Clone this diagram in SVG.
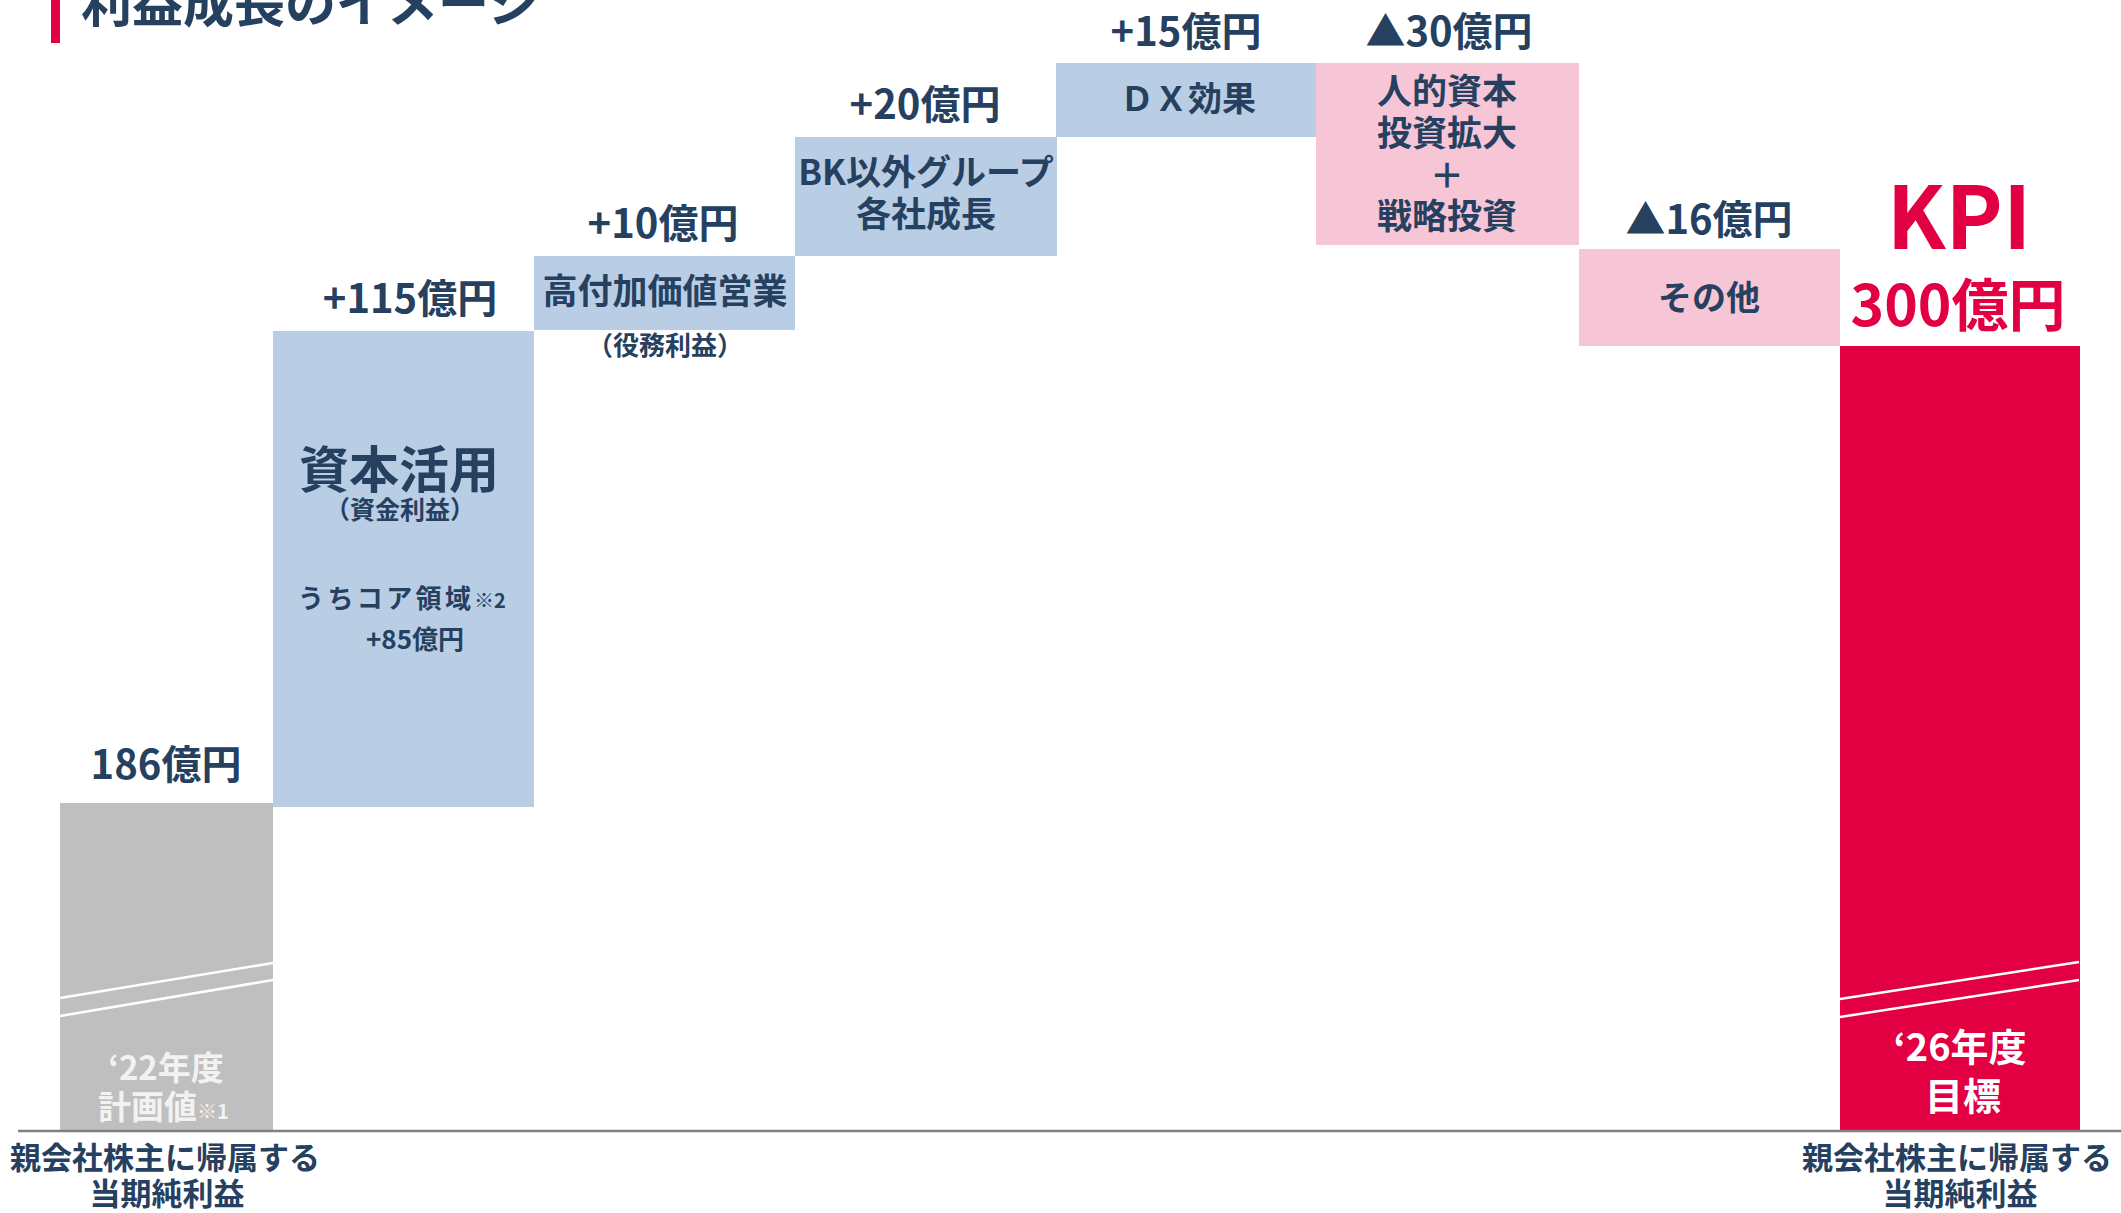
<svg xmlns="http://www.w3.org/2000/svg" width="2121" height="1213" viewBox="0 0 2121 1213">
<style>
text{font-family:"Noto Sans CJK JP","Noto Sans",sans-serif;font-weight:700;fill:#26405f}
.c{text-anchor:middle}
.v{font-size:40px}
.lb{font-size:35px}
.blue{fill:#b9cde5}
.pink{fill:#f7c6d6}
.red{fill:#e30042}
.gray{fill:#bfbfbf}
.brk{stroke:#ffffff;stroke-width:2.5;fill:none}
.wt{fill:#ffffff}
.kpi{fill:#e30042}
</style>
<rect width="2121" height="1213" fill="#ffffff"/>
<g id="title">
<rect x="51" y="0" width="9" height="43" fill="#e30042"/>
<text x="81" y="22" font-size="51">利益成長のイメージ</text>
</g>
<g id="start">
<rect class="gray" x="60" y="803" width="213" height="328"/>
<path class="brk" d="M60,998 L273,963 M60,1016 L273,980"/>
<text class="c v" x="166" y="779">186億円</text>
<text class="c" x="166" y="1080" font-size="33" style="fill:#f2f2f2">‘22年度</text>
<text x="98" y="1119" font-size="33" style="fill:#f2f2f2">計画値<tspan font-size="20">※1</tspan></text>
</g>
<g id="capital">
<rect class="blue" x="273" y="331" width="261" height="476"/>
<text class="c v" x="410" y="313">+115億円</text>
<text class="c" x="399" y="488" font-size="50">資本活用</text>
<text class="c" x="400" y="519" font-size="25">（資金利益）</text>
<text y="608" font-size="26"><tspan x="298" letter-spacing="3.4">うちコア領域</tspan><tspan x="474" font-size="20">※2</tspan></text>
<text class="c" x="415" y="649" font-size="26">+85億円</text>
</g>
<g id="fee">
<rect class="blue" x="534" y="256" width="261" height="74"/>
<text class="c v" x="663" y="238">+10億円</text>
<text class="c lb" x="665" y="304">高付加価値営業</text>
<text class="c" x="665" y="355" font-size="26">（役務利益）</text>
</g>
<g id="group">
<rect class="blue" x="795" y="137" width="262" height="119"/>
<text class="c v" x="925" y="119">+20億円</text>
<text class="c lb" x="926" y="185">BK以外グループ</text>
<text class="c lb" x="926" y="227">各社成長</text>
</g>
<g id="dx">
<rect class="blue" x="1056" y="63" width="261" height="74"/>
<text class="c v" x="1186" y="46">+15億円</text>
<text class="c" x="1188" y="111" font-size="34">ＤＸ効果</text>
</g>
<g id="invest">
<rect class="pink" x="1316" y="63" width="263" height="182"/>
<text class="c v" x="1449" y="46">▲30億円</text>
<text class="c lb" x="1447" y="104">人的資本</text>
<text class="c lb" x="1447" y="146">投資拡大</text>
<text class="c" x="1447" y="188" font-size="34" font-weight="400">＋</text>
<text class="c lb" x="1447" y="229">戦略投資</text>
</g>
<g id="other">
<rect class="pink" x="1579" y="249" width="261" height="97"/>
<text class="c v" x="1709" y="234">▲16億円</text>
<text class="c" x="1709" y="310" font-size="34">その他</text>
</g>
<g id="target">
<rect class="red" x="1840" y="346" width="240" height="785"/>
<path class="brk" d="M1840,999 L2079,962 M1840,1017 L2079,980"/>
<text class="c kpi" x="1959" y="249" font-size="86">KPI</text>
<text class="c kpi" x="1958" y="326" font-size="57">300億円</text>
<text class="c wt" x="1960" y="1061" font-size="38">‘26年度</text>
<text class="c wt" x="1963" y="1110" font-size="38">目標</text>
</g>
<g id="connectors"></g>
<line x1="18" y1="1131" x2="2121" y2="1131" stroke="#808080" stroke-width="2.6"/>
<g id="axis-labels">
<text class="c" x="165" y="1169" font-size="31">親会社株主に帰属する</text>
<text class="c" x="167" y="1205" font-size="31">当期純利益</text>
<text class="c" x="1957" y="1169" font-size="31">親会社株主に帰属する</text>
<text class="c" x="1960" y="1205" font-size="31">当期純利益</text>
</g>
</svg>
